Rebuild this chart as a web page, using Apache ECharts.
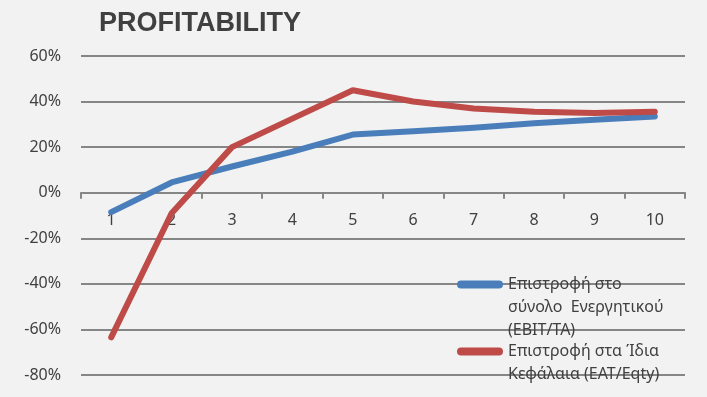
<!DOCTYPE html>
<html>
<head>
<meta charset="utf-8">
<script src="https://cdn.jsdelivr.net/npm/echarts@6/dist/echarts.min.js"></script>
<style>
    html, body { margin: 0; padding: 0; background: #f2f2f2; }
    #chart { width: 707px; height: 397px; }
</style>
</head>
<body>
<div id="chart"></div>
<script>
// data
var categories = ["1", "2", "3", "4", "5", "6", "7", "8", "9", "10"];
var ebitTa = [-8.5, 4.5, 11.5, 18, 25.5, 27, 28.5, 30.5, 32, 33.5];
var eatEqty = [-63.5, -9, 20, 32.5, 45, 40, 37, 35.5, 35, 35.5];
var seriesNames = [
    "Επιστροφή στο\nσύνολο  Ενεργητικού\n(EBIT/TA)",
    "Επιστροφή στα Ίδια\nΚεφάλαια (EAT/Eqty)"
];
var yTicks = { min: -80, max: 60, interval: 20 };

var textColor = "#404040";
var font = "Noto Sans";
var lineIcon = "path://M4,0 H42 A4,4 0 0 1 42,8 H4 A4,4 0 0 1 4,0 Z";

// legend icon sits in the middle of the text block, so pad with blank lines
// above to line it up with the first line of the name
function legendText(name) {
    var n = name.split("\n").length;
    var pad = "";
    for (var i = 1; i < n; i++) pad += "\n";
    return pad + name;
}

var gridTop = 56, gridBottom = 22, chartH = 397;
var zeroY = gridTop + (chartH - gridTop - gridBottom) * yTicks.max / (yTicks.max - yTicks.min);

var myChart = echarts.init(document.getElementById("chart"));
myChart.setOption({
    backgroundColor: "#f2f2f2",
    animation: false,
    title: {
        text: "PROFITABILITY",
        left: 99,
        top: 10,
        padding: 0,
        textStyle: {
            color: textColor,
            fontSize: 27,
            fontWeight: "bold",
            fontFamily: "Liberation Sans"
        }
    },
    legend: [
        {
            data: [seriesNames[0]],
            formatter: legendText,
            left: 457,
            top: 227,
            padding: 0,
            icon: lineIcon,
            itemWidth: 46,
            itemHeight: 8,
            textStyle: { color: textColor, fontSize: 16, lineHeight: 23, fontFamily: font }
        },
        {
            data: [seriesNames[1]],
            formatter: legendText,
            left: 457,
            top: 317,
            padding: 0,
            icon: lineIcon,
            itemWidth: 46,
            itemHeight: 8,
            textStyle: { color: textColor, fontSize: 16, lineHeight: 23, fontFamily: font }
        }
    ],
    grid: {
        left: 81,
        right: 22,
        top: gridTop,
        bottom: gridBottom,
        containLabel: false,
        outerBoundsMode: "none"
    },
    xAxis: {
        type: "category",
        data: categories,
        boundaryGap: true,
        offset: -(chartH - gridBottom - zeroY),
        axisLine: {
            onZero: false,
            lineStyle: { color: "#868686", width: 2 }
        },
        axisTick: {
            show: true,
            length: 6,
            lineStyle: { color: "#868686", width: 2 }
        },
        axisLabel: {
            color: textColor,
            fontSize: 16,
            fontFamily: font,
            margin: 12,
            padding: [8, 0, 0, 0]
        }
    },
    yAxis: {
        type: "value",
        min: yTicks.min,
        max: yTicks.max,
        interval: yTicks.interval,
        axisLine: { show: false },
        axisTick: { show: false },
        axisLabel: {
            color: textColor,
            fontSize: 16,
            fontFamily: font,
            margin: 20,
            formatter: "{value}%"
        },
        splitLine: {
            show: true,
            lineStyle: { color: "#868686", width: 2 }
        }
    },
    series: [
        {
            type: "line",
            name: seriesNames[0],
            data: ebitTa,
            showSymbol: false,
            symbol: "none",
            itemStyle: { color: "#4a7ebb" },
            lineStyle: { color: "#4a7ebb", width: 6, cap: "round", join: "round" }
        },
        {
            type: "line",
            name: seriesNames[1],
            data: eatEqty,
            showSymbol: false,
            symbol: "none",
            itemStyle: { color: "#be4b48" },
            lineStyle: { color: "#be4b48", width: 6, cap: "round", join: "round" }
        }
    ]
});
</script>
</body>
</html>
